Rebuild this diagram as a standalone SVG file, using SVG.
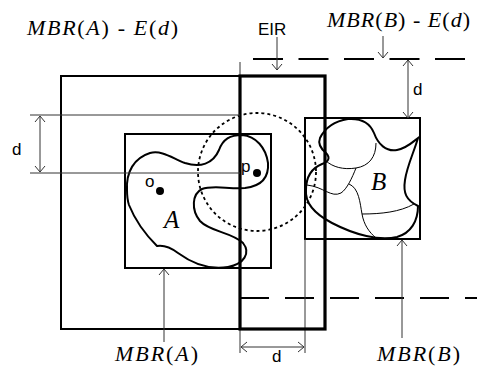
<svg xmlns="http://www.w3.org/2000/svg" width="477" height="366" viewBox="0 0 477 366">
<style>
.rect{fill:none;stroke:#000;stroke-width:2}
.thick{fill:none;stroke:#000;stroke-width:3.2}
.thin{fill:none;stroke:#333;stroke-width:1}
.blob{fill:none;stroke:#000;stroke-width:2}
.inner{fill:none;stroke:#000;stroke-width:1}
.dash{fill:none;stroke:#000;stroke-width:2}
.dot{fill:none;stroke:#000;stroke-width:1.8;stroke-dasharray:3,3}
.sans{font-family:'Liberation Sans',Arial,sans-serif;font-size:17px;fill:#000}
.arr{fill:none;stroke:#333;stroke-width:1;marker-end:url(#ah)}
.arr2{fill:none;stroke:#333;stroke-width:1;marker-start:url(#ahs);marker-end:url(#ah)}
</style>
<defs>
<marker id="ah" markerUnits="userSpaceOnUse" viewBox="0 0 8 12" markerWidth="8" markerHeight="12" refX="7" refY="6" orient="auto">
<path d="M1,1 L7,6 L1,11" fill="none" stroke="#333" stroke-width="1"/>
</marker>
<marker id="ahs" markerUnits="userSpaceOnUse" viewBox="0 0 8 12" markerWidth="8" markerHeight="12" refX="1" refY="6" orient="auto">
<path d="M7,1 L1,6 L7,11" fill="none" stroke="#333" stroke-width="1"/>
</marker>
</defs>
<rect width="477" height="366" fill="#fff"/>

<g id="mbrA-Ed">
<rect class="rect" x="61" y="76" width="264" height="253"/>
</g>
<g id="mbrB-Ed">
<line class="dash" x1="253" y1="59" x2="477" y2="59" stroke-dasharray="30,15.5"/>
<line class="dash" x1="240" y1="298" x2="477" y2="298" stroke-dasharray="29,16"/>
<line class="thin" x1="240" y1="62" x2="240" y2="353"/>
</g>
<g id="mbrA">
<rect class="rect" x="125" y="134" width="146" height="134"/>
</g>
<g id="mbrB">
<rect class="rect" x="305" y="118" width="115" height="121"/>
<line class="thin" x1="305" y1="239" x2="305" y2="353"/>
</g>
<g id="shapeA">
<path class="blob" d="M127,190 C126,172 134,158 150,153 C162,150 172,158 185,163 C200,168 213,164 219,150 C223,139 230,135 242,135 C256,136 266,148 268,163 C269,177 262,186 245,188 C228,189 212,185 202,189 C192,194 191,210 200,221 C210,232 232,232 243,243 C251,253 244,264 228,267 C210,270 193,264 178,253 C170,247 163,245 157,246 C147,236 135,220 129,205 C127,199 127,194 127,190 Z"/>
<circle cx="160" cy="191" r="4"/>
<text class="sans" x="145" y="187">o</text>
<text x="164" y="228" font-family="Liberation Serif, Times New Roman, serif" font-style="italic" font-size="25">A</text>
</g>
<g id="shapeB">
<path class="blob" d="M320,138 C325,128 335,121 348,119 C362,118 370,123 374,133 C378,144 386,152 397,150 C407,148 414,141 418,138 C414,152 407,166 405,180 C403,193 406,200 418,206 C418,221 411,233 397,237 C379,241 355,235 332,223 C313,213 305,201 306,190 C306,177 312,168 322,164 C328,162 331,158 326,153 C320,148 318,143 320,138 Z"/>
<path class="inner" d="M376,143 C376,157 369,166 356,168 C343,170 333,167 326,161"/>
<path class="inner" d="M356,168 C352,178 347,189 341,193 C331,198 324,187 307,185"/>
<path class="inner" d="M349,184 C359,188 360,203 362,214 C364,225 369,232 376,238"/>
<path class="inner" d="M362,214 C381,214 400,212 414,204"/>
<text x="371" y="190" font-family="Liberation Serif, Times New Roman, serif" font-style="italic" font-size="25">B</text>
</g>
<g id="range">
<circle class="dot" cx="257" cy="172" r="59"/>
<circle cx="257" cy="173" r="4"/>
<text class="sans" x="241" y="172">p</text>
</g>
<g id="EIR">
<rect class="thick" x="240" y="76" width="85" height="253"/>
</g>

<g id="connectors">
<line class="thin" x1="30" y1="115" x2="240" y2="115"/>
<line class="thin" x1="30" y1="173" x2="240" y2="173"/>
<line class="arr2" x1="40" y1="116" x2="40" y2="172"/>
<line class="arr2" x1="408" y1="60" x2="408" y2="118"/>
<line class="arr2" x1="241" y1="347" x2="304" y2="347"/>
<line class="arr" x1="277" y1="37" x2="277" y2="70"/>
<line class="arr" x1="383" y1="36" x2="383" y2="58"/>
<line class="arr" x1="164" y1="342" x2="164" y2="269"/>
<line class="arr" x1="402" y1="338" x2="402" y2="240"/>
</g>

<g id="labels" font-family="Liberation Serif, Times New Roman, serif" font-size="22">
<text x="27" y="35" textLength="151" lengthAdjust="spacing"><tspan font-style="italic">MBR</tspan>(<tspan font-style="italic">A</tspan>) - <tspan font-style="italic">E</tspan>(<tspan font-style="italic">d</tspan>)</text>
<text x="327" y="27" textLength="143" lengthAdjust="spacing"><tspan font-style="italic">MBR</tspan>(<tspan font-style="italic">B</tspan>) - <tspan font-style="italic">E</tspan>(<tspan font-style="italic">d</tspan>)</text>
<text x="115" y="361" textLength="83" lengthAdjust="spacing"><tspan font-style="italic">MBR</tspan>(<tspan font-style="italic">A</tspan>)</text>
<text x="377" y="361" textLength="83" lengthAdjust="spacing"><tspan font-style="italic">MBR</tspan>(<tspan font-style="italic">B</tspan>)</text>
</g>
<g id="sanslabels">
<text class="sans" x="258" y="35">EIR</text>
<text class="sans" x="12" y="155">d</text>
<text class="sans" x="413" y="95">d</text>
<text class="sans" x="272" y="362">d</text>
</g>
</svg>
